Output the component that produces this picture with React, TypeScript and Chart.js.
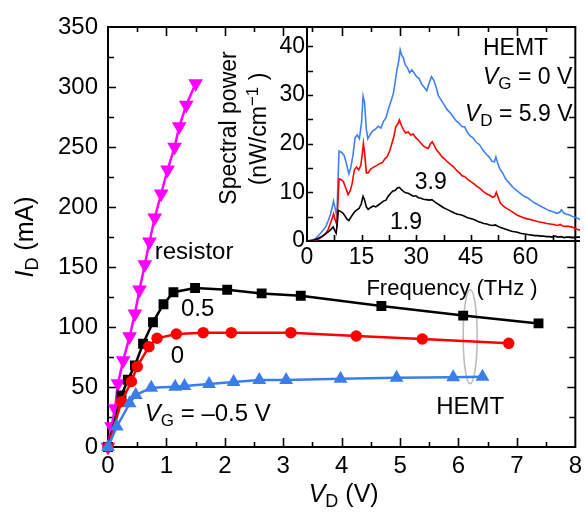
import React, { useEffect, useRef } from "react";
import { Chart, registerables } from "chart.js";
Chart.register(...registerables);

const FONT = '"Liberation Sans", Arial, sans-serif';

// ---------- Main plot data: I_D (mA) vs V_D (V) ----------
const resistorV = [0, 0.06, 0.12, 0.17, 0.26, 0.37, 0.46, 0.54, 0.63, 0.71, 0.8, 0.91, 1.02, 1.14, 1.22, 1.34, 1.5];
const resistorI = [0, 17, 32, 53, 72, 92, 111, 131, 152, 171, 191, 211, 231, 250, 267, 285, 303];

const vg05V = [0, 0.23, 0.34, 0.46, 0.6, 0.77, 0.95, 1.12, 1.49, 2.04, 2.63, 3.3, 4.68, 6.08, 7.37];
const vg05I = [0, 43, 56, 68, 86, 104, 119, 129, 132.5, 131, 128, 126, 117.5, 109.5, 103];

const vg0V = [0, 0.23, 0.4, 0.5, 0.7, 0.84, 1.17, 1.63, 2.11, 3.13, 4.25, 5.38, 6.86];
const vg0I = [0, 37.7, 54.6, 67, 83.6, 90.6, 94.2, 95.3, 95.3, 95.3, 92.5, 90, 86.4];

const vgm05V = [0, 0.15, 0.37, 0.475, 0.74, 1.15, 1.31, 1.73, 2.15, 2.59, 3.05, 3.98, 4.94, 5.91, 6.41];
const vgm05I = [0, 17, 36.4, 43.3, 49.4, 50.2, 50.8, 52.5, 54.2, 55.8, 55.8, 56.9, 57.7, 58.1, 58.6];

const mainXTicks = [0, 1, 2, 3, 4, 5, 6, 7, 8];
const mainYTicks = [0, 50, 100, 150, 200, 250, 300, 350];

// ---------- Inset data: spectral power (nW/cm^-1) vs frequency (THz) ----------
const blueFreq = [0, 1.5, 2.5, 3.5, 4.5, 5.2, 5.9, 6.5, 7.0, 7.3, 7.7, 8.2, 8.5, 8.8, 9.5, 10.2, 10.8, 11.5, 12.0, 12.6, 13.2, 13.8, 14.4, 15.0, 15.4, 15.8, 16.3, 16.7, 17.3, 18.0, 18.8, 19.6, 20.3, 21.0, 21.7, 22.3, 23.0, 23.7, 24.2, 24.7, 25.2, 25.6, 26.0, 26.5, 27.0, 27.6, 28.2, 28.8, 29.4, 30.1, 30.8, 31.5, 32.2, 32.9, 33.5, 34.2, 34.8, 35.4, 36.1, 36.9, 37.7, 38.5, 39.3, 40.1, 41.0, 41.8, 42.6, 43.3, 44.0, 44.8, 45.6, 46.5, 47.4, 48.3, 49.2, 50.0, 50.8, 51.5, 51.9, 52.4, 53.0, 53.8, 54.7, 55.6, 56.6, 57.6, 58.6, 59.6, 60.6, 61.6, 62.6, 63.6, 64.6, 65.6, 66.6, 67.6, 68.6, 69.4, 69.9, 70.5, 71.2, 72.0, 72.8, 73.6, 74.3, 75.2];
const bluePower = [0, 0.2, 0.6, 1.4, 2.3, 3.0, 4.3, 5.6, 7.2, 8.2, 6.8, 5.0, 12.0, 18.5, 18.2, 17.6, 16.0, 13.8, 15.0, 17.5, 21.2, 21.8, 21.0, 24.5, 29.8, 28.5, 23.0, 21.0, 21.8, 22.6, 23.0, 23.6, 23.2, 24.6, 25.3, 27.0, 28.6, 30.3, 32.5, 35.2, 37.0, 39.3, 38.2, 37.6, 36.2, 35.6, 34.6, 35.2, 34.6, 33.8, 33.4, 32.2, 31.6, 30.9, 32.4, 33.8, 33.1, 31.8, 29.9, 28.9, 28.0, 27.0, 26.4, 25.6, 24.7, 24.2, 23.5, 23.5, 22.4, 21.6, 21.2, 20.3, 19.8, 18.7, 17.9, 17.3, 16.4, 16.3, 17.3, 16.0, 14.8, 13.9, 12.6, 11.9, 11.0, 10.4, 9.8, 9.2, 8.9, 8.3, 7.8, 7.4, 7.0, 6.6, 6.2, 6.0, 5.7, 5.9, 6.4, 5.8, 5.5, 5.4, 5.1, 4.9, 4.7, 4.4];

const redFreq = [0, 2.0, 3.0, 4.0, 5.0, 5.8, 6.4, 6.9, 7.3, 7.7, 8.2, 8.5, 8.8, 9.4, 10.0, 10.6, 11.3, 11.9, 12.4, 13.0, 13.6, 14.2, 14.8, 15.2, 15.5, 15.9, 16.3, 16.8, 17.5, 18.3, 19.1, 19.9, 20.7, 21.4, 22.0, 22.7, 23.3, 23.9, 24.4, 24.9, 25.4, 25.9, 26.5, 27.1, 27.8, 28.5, 29.2, 29.8, 30.5, 31.2, 31.9, 32.6, 33.3, 33.9, 34.4, 35.0, 35.6, 36.3, 37.1, 37.9, 38.7, 39.5, 40.3, 41.1, 41.9, 42.6, 43.4, 44.2, 45.0, 45.8, 46.6, 47.5, 48.4, 49.3, 50.2, 51.0, 51.6, 52.0, 52.5, 53.1, 53.9, 54.8, 55.8, 56.8, 57.8, 58.8, 59.8, 60.8, 61.8, 62.8, 63.8, 64.8, 65.8, 66.8, 67.8, 68.8, 69.6, 70.2, 71.0, 71.8, 72.6, 73.4, 74.2, 75.2];
const redPower = [0, 0.1, 0.3, 0.8, 1.4, 2.3, 3.6, 4.6, 5.6, 4.4, 3.4, 8.0, 12.8, 12.6, 12.2, 11.0, 9.5, 10.4, 11.8, 14.6, 15.2, 14.6, 15.6, 18.0, 20.1, 17.6, 14.0, 14.0, 14.8, 15.2, 15.5, 15.9, 16.1, 16.9, 17.3, 18.5, 20.0, 21.6, 23.5, 24.0, 24.9, 23.8, 22.9, 22.2, 22.4, 21.8, 22.0, 21.3, 20.8, 20.2, 19.6, 19.2, 19.0, 20.0, 20.4, 19.6, 18.7, 18.1, 17.3, 16.8, 16.2, 15.7, 15.2, 14.5, 14.0, 13.4, 13.2, 12.6, 12.2, 11.8, 11.3, 10.8, 10.2, 9.7, 9.4, 9.0, 9.2, 10.0, 9.0, 7.8, 7.2, 6.7, 6.3, 5.8, 5.3, 5.0, 4.7, 4.5, 4.3, 4.1, 3.9, 3.8, 3.6, 3.5, 3.4, 3.2, 3.4, 3.1, 3.0, 3.0, 2.9, 2.7, 2.4, 2.2];

const blackFreq = [0, 2.0, 3.0, 4.0, 5.0, 6.0, 6.6, 7.2, 7.6, 8.0, 8.3, 8.6, 9.2, 9.8, 10.4, 11.0, 11.5, 12.0, 12.5, 13.1, 13.7, 14.3, 14.9, 15.4, 15.8, 16.3, 16.8, 17.5, 18.2, 18.9, 19.6, 20.3, 21.0, 21.7, 22.3, 23.0, 23.6, 24.2, 24.8, 25.4, 25.9, 26.5, 27.1, 27.8, 28.5, 29.2, 29.9, 30.6, 31.3, 32.0, 32.8, 33.6, 34.3, 35.0, 35.8, 36.6, 37.4, 38.2, 39.0, 39.8, 40.6, 41.4, 42.2, 43.0, 43.8, 44.6, 45.4, 46.2, 47.0, 47.8, 48.6, 49.4, 50.2, 51.0, 51.7, 52.3, 53.0, 53.8, 54.6, 55.4, 56.2, 57.0, 57.8, 58.6, 59.4, 60.2, 61.0, 61.8, 62.6, 63.4, 64.2, 65.0, 65.8, 66.6, 67.4, 68.2, 69.0, 69.8, 70.6, 71.4, 72.2, 73.0, 73.8, 74.6, 75.2];
const blackPower = [0, 0.2, 0.5, 0.9, 1.4, 2.0, 2.4, 2.9, 2.2, 1.6, 3.5, 6.3, 6.1, 5.8, 5.2, 4.5, 4.2, 4.8, 5.4, 6.0, 6.4, 6.7, 7.6, 9.2, 8.5, 7.0, 6.5, 6.9, 7.2, 7.0, 7.4, 7.8, 8.2, 8.4, 9.2, 9.8, 10.3, 10.4, 10.9, 11.0, 10.6, 10.2, 9.9, 9.8, 9.5, 9.2, 9.3, 8.9, 8.8, 8.6, 8.5, 8.4, 8.5, 8.1, 7.7, 7.3, 6.9, 6.6, 6.3, 6.0, 5.7, 5.5, 5.4, 5.2, 4.9, 4.7, 4.5, 4.3, 4.0, 3.8, 3.6, 3.5, 3.3, 3.2, 3.3, 3.1, 2.8, 2.6, 2.4, 2.2, 2.0, 1.9, 1.8, 1.6, 1.5, 1.4, 1.3, 1.2, 1.1, 1.1, 1.0, 1.0, 0.9, 0.9, 0.8, 1.0, 0.8, 0.9, 0.7, 0.8, 0.8, 0.7, 0.8, 0.8, 0.8];

const insetXTicks = [0, 15, 30, 45, 60];
const insetYTicks = [0, 10, 20, 30, 40];

const pts = (xs: number[], ys: number[]) => xs.map((x, i) => ({ x, y: ys[i] }));

type Seg = { t: string; it?: boolean; sub?: boolean; sup?: boolean };
function drawRich(ctx: CanvasRenderingContext2D, segs: Seg[], x: number, y: number, size: number, align: "left" | "center" | "right") {
  const small = Math.round(size * 0.72);
  const fontFor = (s: Seg) => `${s.it ? "italic " : ""}${s.sub || s.sup ? small : size}px ${FONT}`;
  let w = 0;
  for (const s of segs) {
    ctx.font = fontFor(s);
    w += ctx.measureText(s.t).width;
  }
  let cx = align === "left" ? x : align === "center" ? x - w / 2 : x - w;
  ctx.textAlign = "left";
  ctx.textBaseline = "alphabetic";
  const base = y + size * 0.36;
  for (const s of segs) {
    ctx.font = fontFor(s);
    const dy = s.sub ? size * 0.2 : s.sup ? -size * 0.38 : 0;
    ctx.fillText(s.t, cx, base + dy);
    cx += ctx.measureText(s.t).width;
  }
}

const mainDecor = {
  id: "mainDecor",
  beforeDatasetsDraw(chart: any) {
    const { ctx, chartArea: a, scales } = chart;
    const x = scales.x, y = scales.y;
    ctx.save();
    ctx.strokeStyle = "#000";
    ctx.lineWidth = 2;
    ctx.strokeRect(a.left, a.top, a.right - a.left, a.bottom - a.top);
    ctx.lineWidth = 1.6;
    ctx.beginPath();
    for (let v = 0.5; v < 8; v += 0.5) {
      const px = Math.round(x.getPixelForValue(v)) + 0.5;
      const L = v % 1 === 0 ? 9 : 5;
      ctx.moveTo(px, a.bottom); ctx.lineTo(px, a.bottom - L);
      ctx.moveTo(px, a.top); ctx.lineTo(px, a.top + L);
    }
    for (let v = 25; v < 350; v += 25) {
      const py = Math.round(y.getPixelForValue(v)) + 0.5;
      const L = v % 50 === 0 ? 8 : 6;
      ctx.moveTo(a.left, py); ctx.lineTo(a.left + L, py);
      ctx.moveTo(a.right, py); ctx.lineTo(a.right - L, py);
    }
    ctx.stroke();
    // ellipse around HEMT curves
    ctx.strokeStyle = "#bdbdbd";
    ctx.lineWidth = 1.6;
    ctx.beginPath();
    ctx.ellipse(x.getPixelForValue(6.2), y.getPixelForValue(92), 7, 47, 0, 0, Math.PI * 2);
    ctx.stroke();
    ctx.restore();
  },
  afterDatasetsDraw(chart: any) {
    const { ctx, chartArea: a, scales } = chart;
    const x = scales.x, y = scales.y;
    ctx.save();
    ctx.fillStyle = "#000";
    const S = 24;
    drawRich(ctx, [{ t: "resistor" }], x.getPixelForValue(0.8), y.getPixelForValue(164), S, "left");
    drawRich(ctx, [{ t: "0.5" }], x.getPixelForValue(1.25), y.getPixelForValue(116), S, "left");
    drawRich(ctx, [{ t: "0" }], x.getPixelForValue(1.19), y.getPixelForValue(77), S, "center");
    drawRich(ctx, [{ t: "V", it: true }, { t: "G", sub: true }, { t: " = \u20130.5 V" }], x.getPixelForValue(0.63), y.getPixelForValue(29), S, "left");
    drawRich(ctx, [{ t: "HEMT" }], x.getPixelForValue(6.2), y.getPixelForValue(35), S, "center");
    // axis titles
    drawRich(ctx, [{ t: "V", it: true }, { t: "D", sub: true }, { t: " (V)" }], (a.left + a.right) / 2 + 2, 493, 25, "center");
    ctx.save();
    ctx.translate(24, (a.top + a.bottom) / 2);
    ctx.rotate(-Math.PI / 2);
    drawRich(ctx, [{ t: "I", it: true }, { t: "D", sub: true }, { t: " (mA)" }], 0, 0, 25, "center");
    ctx.restore();
    ctx.restore();
  },
};

const insetDecor = {
  id: "insetDecor",
  beforeDatasetsDraw(chart: any) {
    const { ctx, chartArea: a, scales } = chart;
    const x = scales.x, y = scales.y;
    ctx.save();
    ctx.strokeStyle = "#000";
    ctx.lineWidth = 2;
    ctx.beginPath();
    ctx.moveTo(a.left, a.top); ctx.lineTo(a.left, a.bottom); ctx.lineTo(a.right, a.bottom);
    ctx.stroke();
    ctx.lineWidth = 1.6;
    ctx.beginPath();
    for (let v = 7.5; v < 75; v += 7.5) {
      const px = Math.round(x.getPixelForValue(v)) + 0.5;
      ctx.moveTo(px, a.bottom); ctx.lineTo(px, a.bottom - 6);
    }
    for (let v = 5; v <= 40; v += 5) {
      const py = Math.round(y.getPixelForValue(v)) + 0.5;
      ctx.moveTo(a.left, py); ctx.lineTo(a.left + 6, py);
    }
    ctx.stroke();
    ctx.restore();
  },
  afterDatasetsDraw(chart: any) {
    const { ctx, chartArea: a, scales } = chart;
    const x = scales.x, y = scales.y;
    ctx.save();
    ctx.fillStyle = "#000";
    const S = 23;
    drawRich(ctx, [{ t: "HEMT" }], 483, 47, S, "left");
    drawRich(ctx, [{ t: "V", it: true }, { t: "G", sub: true }, { t: " = 0 V" }], 483, 76, S, "left");
    drawRich(ctx, [{ t: "V", it: true }, { t: "D", sub: true }, { t: " = 5.9 V" }], 465, 113, S, "left");
    drawRich(ctx, [{ t: "3.9" }], x.getPixelForValue(34), y.getPixelForValue(12.4), S, "center");
    drawRich(ctx, [{ t: "1.9" }], x.getPixelForValue(27.2), y.getPixelForValue(4.2), S, "center");
    drawRich(ctx, [{ t: "Frequency (THz )" }], 452, 287, 22, "center");
    ctx.save();
    ctx.translate(228, 128);
    ctx.rotate(-Math.PI / 2);
    drawRich(ctx, [{ t: "Spectral power" }], 0, 0, 23, "center");
    ctx.restore();
    ctx.save();
    ctx.translate(258, 129);
    ctx.rotate(-Math.PI / 2);
    drawRich(ctx, [{ t: "(nW/cm" }, { t: "\u22121", sup: true }, { t: " )" }], 0, 0, 23, "center");
    ctx.restore();
    ctx.restore();
  },
};

export default function App() {
  const mainRef = useRef<HTMLCanvasElement>(null);
  const insetRef = useRef<HTMLCanvasElement>(null);

  useEffect(() => {
    const main = new Chart(mainRef.current!, {
      type: "line",
      data: {
        datasets: [
          {
            data: pts(vgm05V, vgm05I), borderColor: "#3b7ee9", backgroundColor: "#3b7ee9",
            borderWidth: 2.5, pointStyle: "triangle", pointRadius: 5.5, clip: false as any,
          },
          {
            data: pts(vg0V, vg0I), borderColor: "#ff0000", backgroundColor: "#ff0000",
            borderWidth: 2.5, pointStyle: "circle", pointRadius: 4.5, clip: false as any,
          },
          {
            data: pts(vg05V, vg05I), borderColor: "#000", backgroundColor: "#000",
            borderWidth: 2.5, pointStyle: "rect", pointRadius: 5.2, clip: false as any,
          },
          {
            data: pts(resistorV, resistorI), borderColor: "#ff00ff", backgroundColor: "#ff00ff",
            borderWidth: 2.5, pointStyle: "triangle", pointRotation: 180, pointRadius: 6, clip: false as any,
          },
        ],
      },
      options: {
        animation: false,
        responsive: false,
        devicePixelRatio: 1,
        events: [],
        layout: { padding: { left: 0, top: 27, right: 7, bottom: 0 } },
        plugins: { legend: { display: false }, tooltip: { enabled: false } },
        elements: { line: { tension: 0 }, point: { borderWidth: 0 } },
        scales: {
          x: {
            type: "linear", min: 0, max: 8,
            grid: { display: false, drawTicks: false }, border: { display: false },
            ticks: { color: "#000", font: { family: FONT, size: 24 }, padding: 5, maxRotation: 0 },
            afterBuildTicks: (s: any) => { s.ticks = mainXTicks.map((v) => ({ value: v })); },
            afterFit: (s: any) => { s.height = 66; },
          },
          y: {
            type: "linear", min: 0, max: 350,
            grid: { display: false, drawTicks: false }, border: { display: false },
            ticks: { color: "#000", font: { family: FONT, size: 24 }, padding: 10 },
            afterBuildTicks: (s: any) => { s.ticks = mainYTicks.map((v) => ({ value: v })); },
            afterFit: (s: any) => { s.width = 108; },
          },
        },
      },
      plugins: [mainDecor],
    } as any);

    const inset = new Chart(insetRef.current!, {
      type: "line",
      data: {
        datasets: [
          { data: pts(blackFreq, blackPower), borderColor: "#000", borderWidth: 1.6, pointRadius: 0 },
          { data: pts(redFreq, redPower), borderColor: "#ff0000", borderWidth: 1.6, pointRadius: 0 },
          { data: pts(blueFreq, bluePower), borderColor: "#3f80f5", borderWidth: 1.6, pointRadius: 0 },
        ],
      },
      options: {
        animation: false,
        responsive: false,
        devicePixelRatio: 1,
        events: [],
        layout: { padding: { left: 0, top: 27, right: 7, bottom: 0 } },
        plugins: { legend: { display: false }, tooltip: { enabled: false } },
        elements: { line: { tension: 0 } },
        scales: {
          x: {
            type: "linear", min: 0, max: 75,
            grid: { display: false, drawTicks: false }, border: { display: false },
            ticks: { color: "#000", font: { family: FONT, size: 23 }, padding: 3, maxRotation: 0 },
            afterBuildTicks: (s: any) => { s.ticks = insetXTicks.map((v) => ({ value: v })); },
            afterFit: (s: any) => { s.height = 272; },
          },
          y: {
            type: "linear", min: 0, max: 44,
            grid: { display: false, drawTicks: false }, border: { display: false },
            ticks: { color: "#000", font: { family: FONT, size: 23 }, padding: 2 },
            afterBuildTicks: (s: any) => { s.ticks = insetYTicks.map((v) => ({ value: v })); },
            afterFit: (s: any) => { s.width = 307; },
          },
        },
      },
      plugins: [insetDecor],
    } as any);

    return () => {
      main.destroy();
      inset.destroy();
    };
  }, []);

  return (
    <div style={{ position: "fixed", left: 0, top: 0, width: 587, height: 513, background: "#fff" }}>
      <canvas ref={mainRef} width={587} height={513} style={{ position: "absolute", left: 0, top: 0 }} />
      <canvas ref={insetRef} width={587} height={513} style={{ position: "absolute", left: 0, top: 0, pointerEvents: "none" }} />
    </div>
  );
}
